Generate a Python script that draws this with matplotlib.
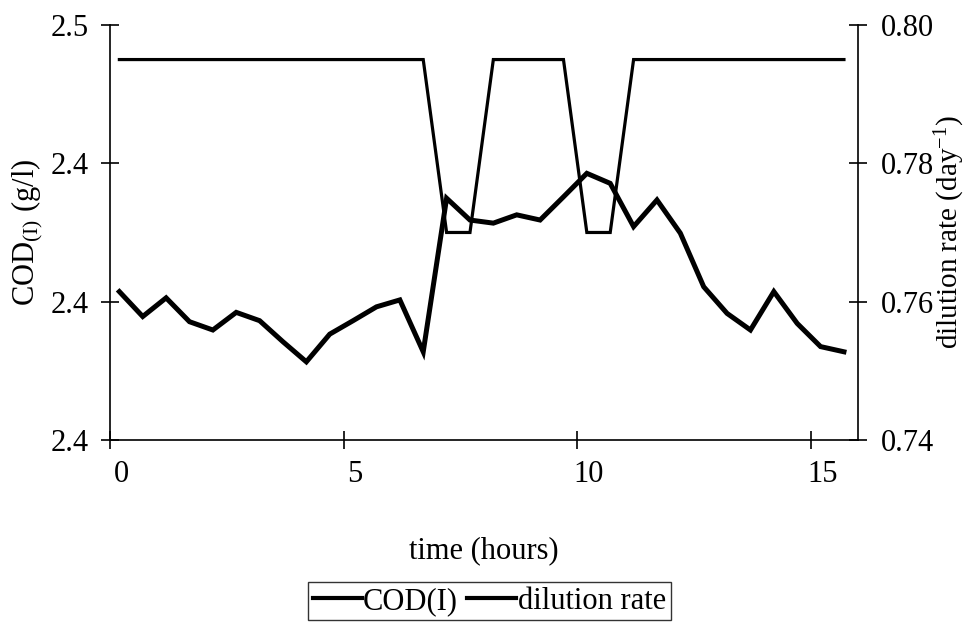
import numpy as np
import matplotlib
matplotlib.use('Agg')
import matplotlib.pyplot as plt
import matplotlib.transforms as mtransforms
from matplotlib.ticker import FixedLocator, FixedFormatter

plt.rcParams['font.family'] = ['Liberation Serif', 'DejaVu Serif']
plt.rcParams['mathtext.fontset'] = 'custom'
plt.rcParams['mathtext.rm'] = 'Liberation Serif'
plt.rcParams['mathtext.it'] = 'Liberation Serif:italic'

# time of each sample (hours)
time_h = [0.2, 0.7, 1.2, 1.7, 2.2, 2.7, 3.2, 3.7, 4.2, 4.7, 5.2, 5.7, 6.2, 6.7,
          7.2, 7.7, 8.2, 8.7, 9.2, 9.7, 10.2, 10.7, 11.2, 11.7, 12.2, 12.7,
          13.2, 13.7, 14.2, 14.7, 15.2, 15.7]

cod = [2.4029, 2.3957, 2.4011, 2.3942, 2.3918, 2.3969, 2.3945, 2.3884,
       2.3826, 2.3906, 2.3945, 2.3985, 2.4005, 2.3855, 2.4299, 2.4236,
       2.4227, 2.4251, 2.4236, 2.4303, 2.4371, 2.4342, 2.4217, 2.4294,
       2.4198, 2.4043, 2.3966, 2.3918, 2.4029, 2.3937, 2.3870, 2.3855]

dilution = [0.795, 0.795, 0.795, 0.795, 0.795, 0.795, 0.795, 0.795,
            0.795, 0.795, 0.795, 0.795, 0.795, 0.795, 0.770, 0.770,
            0.795, 0.795, 0.795, 0.795, 0.770, 0.770, 0.795, 0.795,
            0.795, 0.795, 0.795, 0.795, 0.795, 0.795, 0.795, 0.795]

left_ticks = [2.36, 2.40, 2.44, 2.48]
left_labels = ['2.4', '2.4', '2.4', '2.5']
right_ticks = [0.74, 0.76, 0.78, 0.80]
right_labels = ['0.74', '0.76', '0.78', '0.80']
x_ticks = [0, 5, 10, 15]

fig = plt.figure(figsize=(9.71, 6.29), dpi=100)
ax = fig.add_axes([0.1133, 0.3005, 0.7703, 0.6598])
ax2 = ax.twinx()

l1, = ax.plot(time_h, cod, color='black', lw=3.6, label='COD(I)', solid_joinstyle='miter')
l2, = ax2.plot(time_h, dilution, color='black', lw=2.3, label='dilution rate', solid_joinstyle='miter')

ax.set_xlim(0, 16)
ax.set_ylim(2.36, 2.48)
ax2.set_ylim(0.74, 0.80)

ax.xaxis.set_major_locator(FixedLocator(x_ticks))
ax.yaxis.set_major_locator(FixedLocator(left_ticks))
ax.yaxis.set_major_formatter(FixedFormatter(left_labels))
ax2.yaxis.set_major_locator(FixedLocator(right_ticks))
ax2.yaxis.set_major_formatter(FixedFormatter(right_labels))

for a in (ax, ax2):
    a.spines['top'].set_visible(False)
    for s in a.spines.values():
        s.set_linewidth(1.2)
ax.spines['right'].set_visible(False)
ax2.spines['left'].set_visible(False)
ax2.spines['bottom'].set_visible(False)

ax.tick_params(axis='both', direction='inout', length=13, width=1.2, labelsize=22)
ax.tick_params(axis='x', pad=8)
ax.tick_params(axis='y', pad=9)
ax2.tick_params(axis='y', direction='inout', length=13, width=1.2, labelsize=22, pad=10)

# x tick labels sit a little right of their ticks in the original
shift = mtransforms.ScaledTranslation(0.11, 0, fig.dpi_scale_trans)
for lab in ax.get_xticklabels():
    lab.set_transform(lab.get_transform() + shift)

ax.set_xlabel('time (hours)', fontsize=22, labelpad=34)
ax.set_ylabel('COD$_{(\\mathrm{I})}$ (g/l)', fontsize=22, labelpad=4)
ax2.set_ylabel('dilution rate (day$^{-1}$)', fontsize=21, labelpad=-1)

leg = fig.legend(handles=[l1, l2], loc='center', bbox_to_anchor=(0.504, 0.044),
                 ncol=2, fontsize=22, frameon=True, fancybox=False,
                 handlelength=1.6, handletextpad=0.05, columnspacing=0.3,
                 borderpad=0.15, borderaxespad=0)
leg.get_frame().set_edgecolor('black')
leg.get_frame().set_linewidth(1.0)
for h in leg.get_lines():
    h.set_linewidth(3)

fig.savefig('out.png', dpi=100)
